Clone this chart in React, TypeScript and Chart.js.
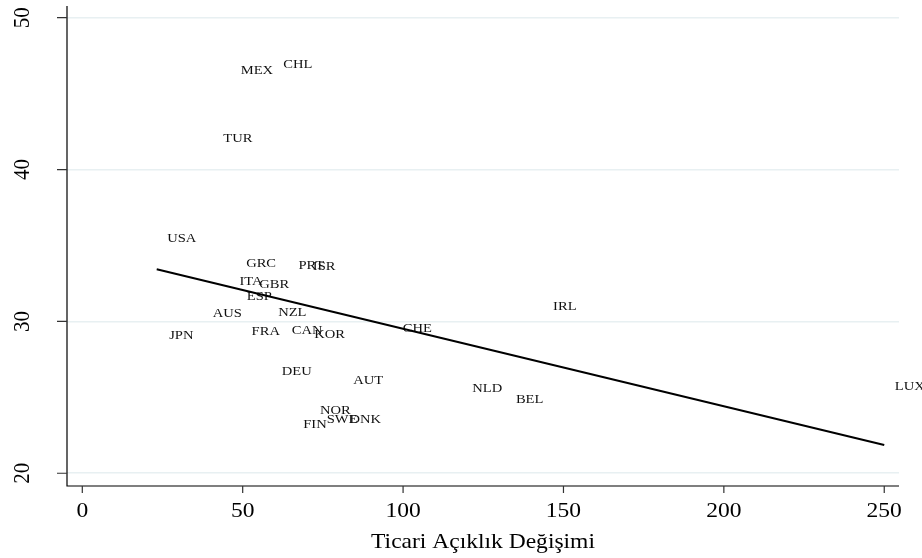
import React, { useEffect, useRef } from "react";
import { Chart, registerables } from "chart.js";

Chart.register(...registerables);

// Country codes and values
const countries = [
  "MEX", "CHL", "TUR", "USA", "GRC", "PRT", "ISR", "ITA", "GBR", "ESP",
  "AUS", "NZL", "JPN", "FRA", "CAN", "KOR", "CHE", "IRL", "DEU", "AUT",
  "NLD", "BEL", "NOR", "SWE", "DNK", "FIN", "LUX",
];
const opennessChange = [
  46.1, 59.4, 40.7, 23.2, 47.8, 64.1, 68.6, 45.7, 51.9, 48.0,
  37.4, 57.8, 23.8, 49.5, 62.0, 69.0, 96.6, 143.5, 58.9, 81.2,
  118.3, 131.9, 70.8, 72.9, 80.0, 65.6, 250.0,
];
const yValues = [
  46.55, 46.95, 42.09, 35.54, 33.89, 33.71, 33.67, 32.66, 32.5, 31.67,
  30.57, 30.64, 29.1, 29.39, 29.48, 29.17, 29.59, 31.01, 26.73, 26.18,
  25.66, 24.91, 24.21, 23.62, 23.62, 23.29, 25.75,
];
// Fitted line end points
const fitX = [23.2, 250.0];
const fitY = [33.43, 21.86];

const xTicks = [0, 50, 100, 150, 200, 250];
const yTicks = [20, 30, 40, 50];
const xTitle = "Ticari Açıklık Değişimi";

const SX = 1.12; // horizontal stretch of the text in the picture
const SERIF = '"Liberation Serif", "Times New Roman", serif';

function stretchedText(
  ctx: CanvasRenderingContext2D,
  text: string,
  x: number,
  y: number,
  align: CanvasTextAlign,
  rotate = 0
) {
  ctx.save();
  ctx.translate(x, y);
  ctx.scale(SX, 1);
  if (rotate) ctx.rotate(rotate);
  ctx.textAlign = align;
  ctx.textBaseline = "alphabetic";
  ctx.fillText(text, 0, 0);
  ctx.restore();
}

const decorPlugin = {
  id: "stataDecor",
  beforeDatasetsDraw(chart: any) {
    const ctx: CanvasRenderingContext2D = chart.ctx;
    const meta = chart.getDatasetMeta(0);
    ctx.save();
    ctx.fillStyle = "#111";
    ctx.font = `13px ${SERIF}`;
    meta.data.forEach((el: any, i: number) => {
      stretchedText(ctx, countries[i], el.x + 10.5, el.y + 4.3, "left");
    });
    ctx.restore();
  },
  afterDraw(chart: any) {
    const ctx: CanvasRenderingContext2D = chart.ctx;
    const xs = chart.scales.x;
    const ys = chart.scales.y;
    const area = chart.chartArea;
    ctx.save();
    // axes lines
    ctx.strokeStyle = "#000";
    ctx.lineWidth = 1.2;
    ctx.beginPath();
    ctx.moveTo(area.left, area.top);
    ctx.lineTo(area.left, area.bottom);
    ctx.lineTo(area.right, area.bottom);
    ctx.stroke();
    // tick marks
    ctx.strokeStyle = "#333";
    ctx.lineWidth = 1.2;
    ctx.beginPath();
    xTicks.forEach((v) => {
      const px = xs.getPixelForValue(v);
      ctx.moveTo(px, area.bottom);
      ctx.lineTo(px, area.bottom + 7);
    });
    yTicks.forEach((v) => {
      const py = ys.getPixelForValue(v);
      ctx.moveTo(area.left, py);
      ctx.lineTo(area.left - 10, py);
    });
    ctx.stroke();
    // tick labels
    ctx.fillStyle = "#000";
    ctx.font = `21px ${SERIF}`;
    xTicks.forEach((v) => {
      stretchedText(ctx, String(v), xs.getPixelForValue(v), area.bottom + 31, "center");
    });
    yTicks.forEach((v) => {
      stretchedText(ctx, String(v), area.left - 38.5, ys.getPixelForValue(v), "center", -Math.PI / 2);
    });
    // axis title
    stretchedText(ctx, xTitle, (area.left + area.right) / 2, area.bottom + 62, "center");
    ctx.restore();
  },
};

export default function App() {
  const canvasRef = useRef<HTMLCanvasElement | null>(null);

  useEffect(() => {
    document.body.style.margin = "0";
    const canvas = canvasRef.current;
    if (!canvas) return;
    const points = opennessChange.map((x, i) => ({ x, y: yValues[i] }));
    const fit = fitX.map((x, i) => ({ x, y: fitY[i] }));
    const chart = new Chart(canvas, {
      type: "scatter",
      data: {
        datasets: [
          {
            label: "countries",
            data: points,
            pointRadius: 0,
            pointHoverRadius: 0,
            showLine: false,
          },
          {
            label: "fit",
            data: fit,
            showLine: true,
            borderColor: "#000",
            borderWidth: 2,
            pointRadius: 0,
            fill: false,
          },
        ],
      },
      options: {
        animation: false,
        responsive: true,
        maintainAspectRatio: false,
        events: [],
        layout: { padding: { left: 67, right: 23, top: 6, bottom: 72 } },
        plugins: {
          legend: { display: false },
          tooltip: { enabled: false },
        },
        scales: {
          x: {
            type: "linear",
            min: -4.77,
            max: 254.6,
            ticks: { display: false },
            grid: { display: false, drawTicks: false },
            border: { display: false },
          },
          y: {
            type: "linear",
            min: 19.16,
            max: 50.77,
            afterBuildTicks: (scale: any) => {
              scale.ticks = yTicks.map((v) => ({ value: v }));
            },
            ticks: { display: false },
            grid: { display: true, drawTicks: false, color: "#e8f0f2", lineWidth: 1.5 },
            border: { display: false },
          },
        },
      },
      plugins: [decorPlugin],
    });
    return () => chart.destroy();
  }, []);

  return (
    <div style={{ position: "fixed", left: 0, top: 0, width: 922, height: 558, background: "#fff" }}>
      <canvas ref={canvasRef} />
    </div>
  );
}
